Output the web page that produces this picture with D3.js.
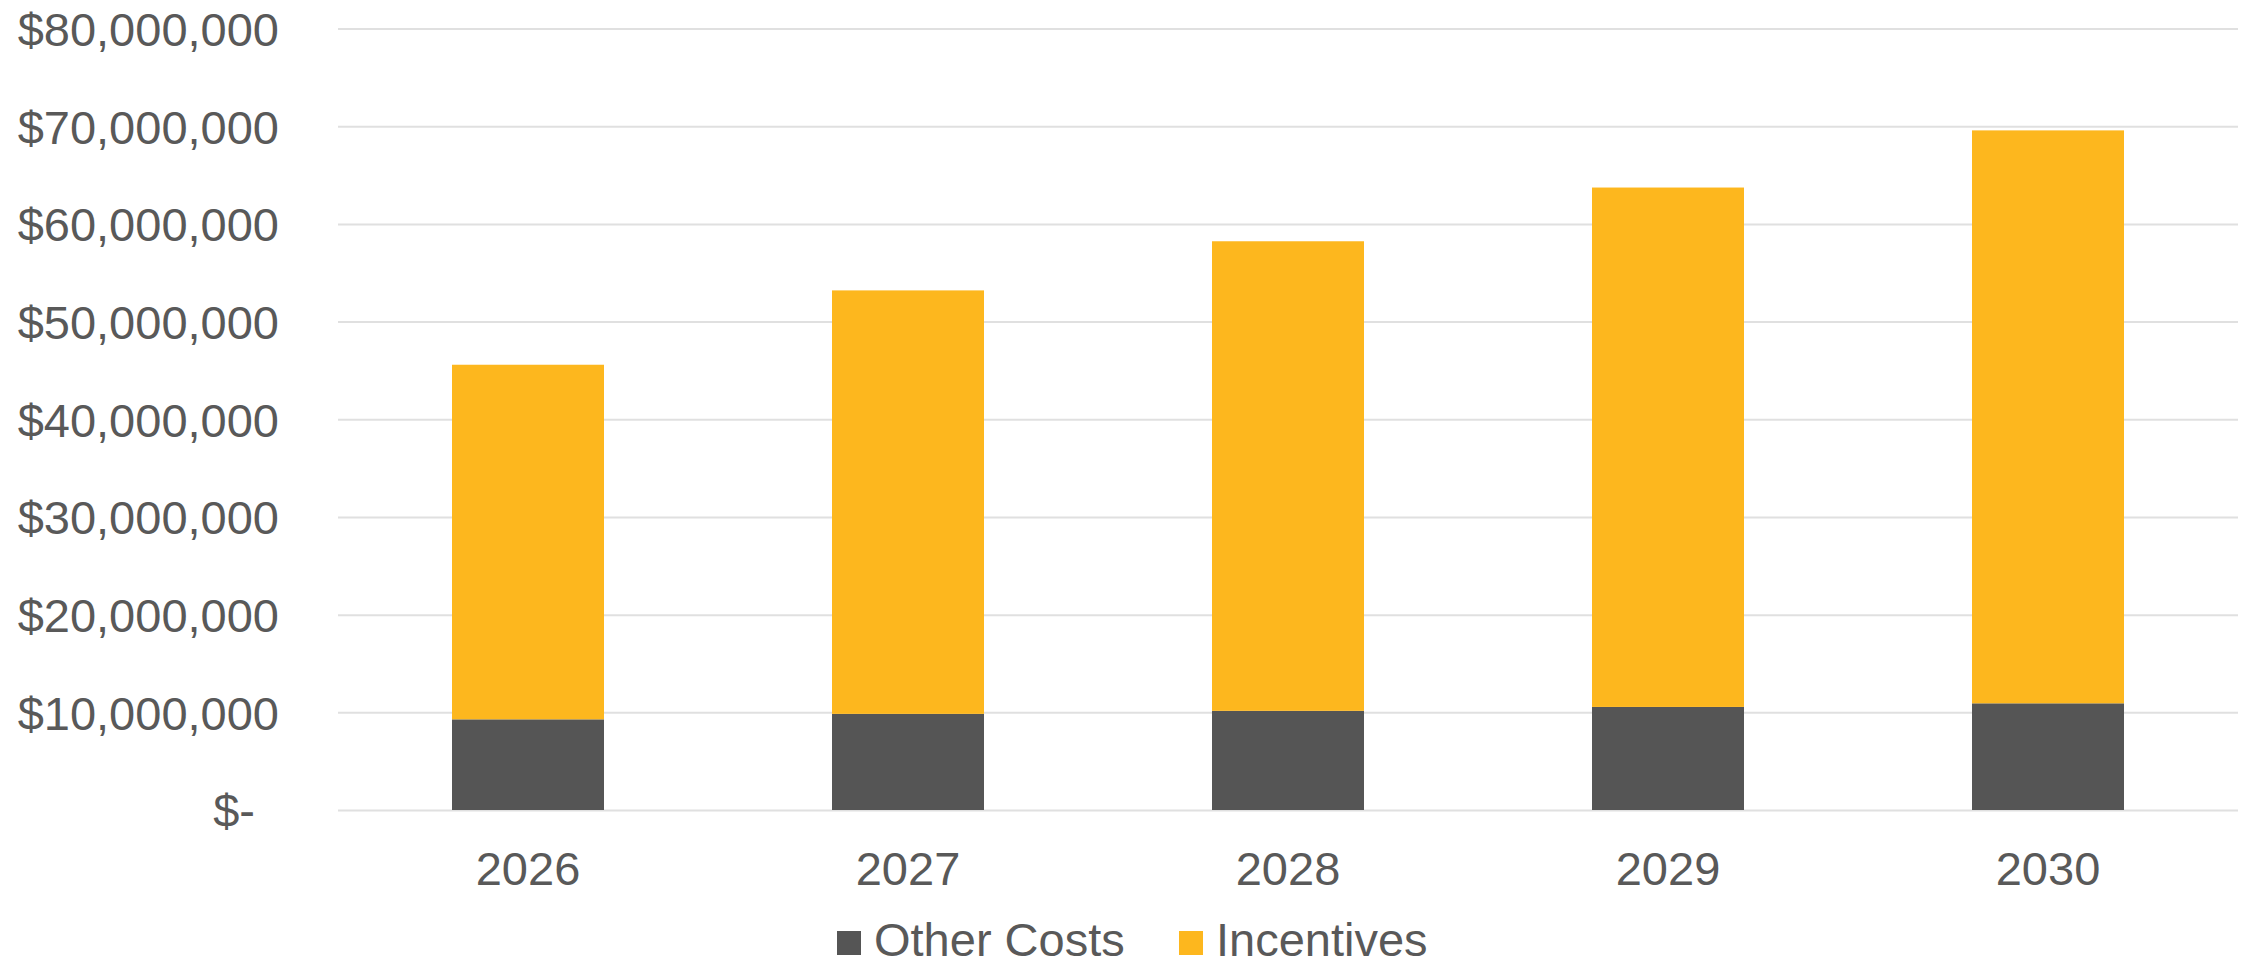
<!DOCTYPE html>
<html>
<head>
<meta charset="utf-8">
<script src="https://cdn.jsdelivr.net/npm/d3@7"></script>
<style>
  html, body { margin: 0; padding: 0; background: #ffffff; }
  svg { display: block; }
  text { font-family: "Liberation Sans", Arial, sans-serif; fill: #595959; }
</style>
</head>
<body>
<svg id="chart" width="2241" height="966"></svg>
<script>
// ---- data ----
const years = ["2026", "2027", "2028", "2029", "2030"];
const otherCosts = [9280000, 9840000, 10150000, 10550000, 10920000];
const incentives = [36300000, 43350000, 48070000, 53170000, 58650000];
const seriesNames = ["Other Costs", "Incentives"];
const seriesColors = ["#555555", "#FDB71E"];
const yTicks = [0, 10000000, 20000000, 30000000, 40000000, 50000000, 60000000, 70000000, 80000000];

// ---- layout ----
const W = 2241, H = 966;
const plot = { left: 338, right: 2238, top: 28.5, bottom: 810 };

const svg = d3.select("#chart");

const rows = years.map((y, i) => ({ year: y, "Other Costs": otherCosts[i], "Incentives": incentives[i] }));

const x = d3.scaleBand()
  .domain(years)
  .range([plot.left, plot.right])
  .paddingInner(0.6)
  .paddingOuter(0.3);

const y = d3.scaleLinear()
  .domain([0, 80000000])
  .range([plot.bottom, plot.top]);

const color = d3.scaleOrdinal().domain(seriesNames).range(seriesColors);

// y axis with gridlines
const fmt = v => v === 0 ? "$-" : "$" + d3.format(",")(v);
const yAxis = svg.append("g")
  .attr("transform", `translate(${plot.left},0)`)
  .call(d3.axisLeft(y)
    .tickValues(yTicks)
    .tickFormat(fmt)
    .tickSize(-(plot.right - plot.left))
    .tickPadding(59));
yAxis.select(".domain").remove();
yAxis.selectAll(".tick line").attr("stroke", "#e0e0e0").attr("stroke-width", 2);
yAxis.selectAll(".tick text")
  .attr("font-size", 47)
  .attr("fill", "#595959")
  .attr("dy", "0.36em")
  .attr("dx", d => d === 0 ? -24 : 0);

// stacked bars
const stacked = d3.stack().keys(seriesNames)(rows);
svg.append("g")
  .selectAll("g")
  .data(stacked)
  .join("g")
  .attr("fill", d => color(d.key))
  .selectAll("rect")
  .data(d => d)
  .join("rect")
  .attr("x", d => x(d.data.year))
  .attr("width", x.bandwidth())
  .attr("y", d => y(d[1]))
  .attr("height", d => y(d[0]) - y(d[1]));

// x axis labels
const xAxis = svg.append("g")
  .attr("transform", `translate(0,${plot.bottom})`)
  .call(d3.axisBottom(x).tickSize(0).tickPadding(0));
xAxis.select(".domain").remove();
xAxis.selectAll(".tick text")
  .attr("font-size", 47)
  .attr("fill", "#595959")
  .attr("dy", null)
  .attr("y", 75);

// legend
const legendItems = [
  { name: seriesNames[0], x: 837 },
  { name: seriesNames[1], x: 1179 }
];
const legend = svg.append("g");
legendItems.forEach(it => {
  legend.append("rect")
    .attr("x", it.x).attr("y", 931)
    .attr("width", 24).attr("height", 24)
    .attr("fill", color(it.name));
  legend.append("text")
    .attr("x", it.x + 37).attr("y", 956)
    .attr("font-size", 47)
    .text(it.name);
});
</script>
</body>
</html>
